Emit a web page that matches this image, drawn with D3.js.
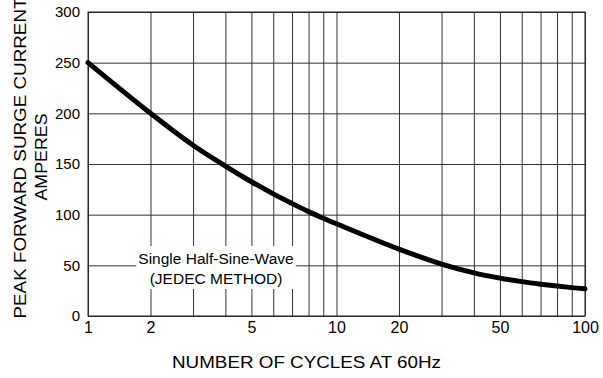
<!DOCTYPE html>
<html>
<head>
<meta charset="utf-8">
<script src="https://cdn.jsdelivr.net/npm/d3@7"></script>
<style>
  html, body { margin: 0; padding: 0; background: #fff; }
  svg { display: block; font-family: "Liberation Sans", Arial, Helvetica, sans-serif; }
</style>
</head>
<body>
<svg id="chart" width="603" height="378"></svg>
<script>
// ---- data ----
const cycles = [1, 2, 3, 4, 5, 6, 7, 8, 9, 10, 20, 30, 40, 50, 60, 70, 80, 90, 100];
const amps   = [250, 200, 168.5, 148, 132.5, 120.5, 111, 103, 96.5, 91, 66, 51.3, 42.6, 37.4, 33.9, 31.4, 29.5, 28, 26.8];
const xGridValues = [1, 2, 3, 4, 5, 6, 7, 8, 9, 10, 20, 30, 40, 50, 60, 70, 80, 90, 100];
const xTickLabels = [1, 2, 5, 10, 20, 50, 100];
const yTickValues = [0, 50, 100, 150, 200, 250, 300];
const xTitle = "NUMBER OF CYCLES AT 60Hz";
const yTitle = ["PEAK FORWARD SURGE CURRENT", "AMPERES"];
const noteLines = ["Single Half-Sine-Wave", "(JEDEC METHOD)"];

// ---- layout ----
const plotL = 88, plotR = 585, plotT = 12, plotB = 316;
const svg = d3.select("#chart");

// The printed log grid of the original is slightly compressed inside each decade;
// reproduce it with a per-decade log scale of the (shifted) mantissa.
const decadeScale = d3.scaleLinear().domain([0, 2]).range([plotL, plotR]);
const mantissaScale = d3.scaleLog().domain([1.7, 10.7]).range([0, 1]);
function decadePos(v) {
  const e = Math.floor(Math.log10(v) + 1e-9);
  const m = v / Math.pow(10, e);
  return decadeScale(e + mantissaScale(m + 0.7));
}
const x = d3.scaleLinear().domain(xGridValues).range(xGridValues.map(decadePos));
const y = d3.scaleLinear().domain([0, 300]).range([plotB, plotT]);

const gridColor = "#333";

// x grid + labels
const xAxis = d3.axisBottom(x)
  .tickValues(xGridValues)
  .tickSize(-(plotB - plotT))
  .tickPadding(6)
  .tickFormat(d => xTickLabels.includes(d) ? String(d) : "");
const gx = svg.append("g").attr("transform", `translate(0,${plotB})`).call(xAxis);
gx.select(".domain").remove();
gx.selectAll(".tick line").attr("stroke", gridColor).attr("stroke-width", 1);
gx.selectAll(".tick text").attr("fill", "#000").style("font-size", "16px")
  .style("font-family", "'Liberation Sans', Arial, sans-serif");

// y grid + labels
const yAxis = d3.axisLeft(y)
  .tickValues(yTickValues)
  .tickSize(-(plotR - plotL))
  .tickPadding(8)
  .tickFormat(d3.format("d"));
const gy = svg.append("g").attr("transform", `translate(${plotL},0)`).call(yAxis);
gy.select(".domain").remove();
gy.selectAll(".tick line").attr("stroke", gridColor).attr("stroke-width", 1);
gy.selectAll(".tick text").attr("fill", "#000").style("font-size", "15px")
  .style("font-family", "'Liberation Sans', Arial, sans-serif");

// frame
svg.append("rect")
  .attr("x", plotL).attr("y", plotT)
  .attr("width", plotR - plotL).attr("height", plotB - plotT)
  .attr("fill", "none").attr("stroke", "#222").attr("stroke-width", 1);

// note with white background
const note = svg.append("g");
const noteText = note.append("text")
  .attr("text-anchor", "middle")
  .style("font-size", "15.5px")
  .attr("fill", "#000");
noteLines.forEach((t, i) => {
  noteText.append("tspan").attr("x", 216).attr("y", 264 + i * 20).text(t);
});
const bb = noteText.node().getBBox();
note.insert("rect", "text")
  .attr("x", bb.x - 2).attr("y", bb.y - 4)
  .attr("width", bb.width + 4).attr("height", bb.height + 6)
  .attr("fill", "#fff");

// curve
const line = d3.line()
  .x((d, i) => x(cycles[i]))
  .y(d => y(d))
  .curve(d3.curveCatmullRom.alpha(0.5));
svg.append("path")
  .datum(amps)
  .attr("d", line)
  .attr("fill", "none")
  .attr("stroke", "#000")
  .attr("stroke-width", 5)
  .attr("stroke-linecap", "round")
  .attr("stroke-linejoin", "round");

// x title
svg.append("text")
  .attr("x", 306.5).attr("y", 368)
  .attr("text-anchor", "middle")
  .attr("textLength", 269).attr("lengthAdjust", "spacingAndGlyphs")
  .style("font-size", "16.5px")
  .attr("fill", "#000")
  .text(xTitle);

// y title
const yt = svg.append("g").attr("transform", "rotate(-90)");
yt.append("text")
  .attr("x", -158).attr("y", 25.5)
  .attr("text-anchor", "middle")
  .attr("textLength", 321).attr("lengthAdjust", "spacingAndGlyphs")
  .style("font-size", "16.5px").attr("fill", "#000")
  .text(yTitle[0]);
yt.append("text")
  .attr("x", -157).attr("y", 47)
  .attr("text-anchor", "middle")
  .attr("textLength", 87).attr("lengthAdjust", "spacingAndGlyphs")
  .style("font-size", "16.5px").attr("fill", "#000")
  .text(yTitle[1]);
</script>
</body>
</html>
